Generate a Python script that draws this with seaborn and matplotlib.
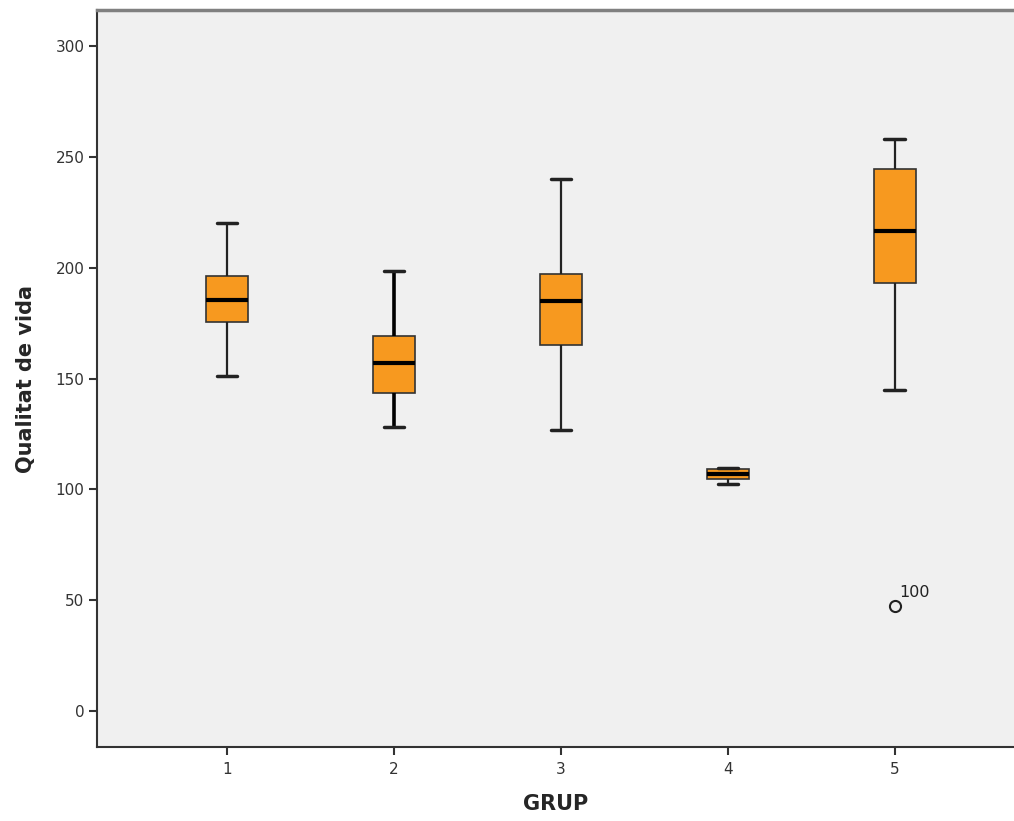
import numpy as np
import pandas as pd
import matplotlib
matplotlib.use("Agg")
import matplotlib.pyplot as plt
import seaborn as sns

# Five-number summaries (min whisker, Q1, median, Q3, max whisker)
grups = ["1", "2", "3", "4", "5"]
whisker_low = [151, 128, 127, 102.4, 145]
q1 = [175.5, 143.5, 165, 104.8, 193]
median = [185.3, 157.2, 184.8, 106.9, 216.5]
q3 = [196.3, 169.4, 197.1, 109.4, 244.3]
whisker_high = [220, 198.3, 240, 109.6, 258]

# Outlier in group 5 (case 100)
outlier_grup = "5"
outlier_value = 47.3
outlier_label = "100"

rows = []
for i, g in enumerate(grups):
    for v in [whisker_low[i], q1[i], median[i], q3[i], whisker_high[i]]:
        rows.append({"GRUP": g, "Qualitat de vida": v})
df = pd.DataFrame(rows)

sns.set_style("ticks")
plt.rcParams["font.family"] = ["DejaVu Sans"]

fig = plt.figure(figsize=(10.14, 8.21), dpi=100)
ax = fig.add_axes([0.0957, 0.0901, 0.9043, 0.8977])
ax.set_facecolor("#f0f0f0")

sns.boxplot(data=df, x="GRUP", y="Qualitat de vida", order=grups, ax=ax,
            whis=np.inf, width=0.25, color="#f7991f", saturation=1,
            linecolor="#222222", linewidth=1.2,
            medianprops={"color": "black", "linewidth": 3},
            whiskerprops={"color": "#222222", "linewidth": 1.6},
            capprops={"color": "#222222", "linewidth": 2.5},
            boxprops={"edgecolor": "#333333", "linewidth": 1.2})

# group 2 whiskers look heavier in the original
for line in ax.lines:
    xd = np.asarray(line.get_xdata(), dtype=float)
    if len(xd) == 2 and np.allclose(xd, 1) and line.get_linewidth() < 2:
        line.set_linewidth(2.6)
        line.set_color("black")

ox = grups.index(outlier_grup)
ax.plot([ox], [outlier_value], marker="o", markersize=8, markerfacecolor="none",
        markeredgecolor="#222222", markeredgewidth=1.5, linestyle="none")
ax.annotate(outlier_label, (ox, outlier_value), xytext=(3, 7),
            textcoords="offset points", fontsize=11.5, color="#222222")

ax.set_xlim(-0.778, 4.713)
ax.set_ylim(-16.2, 316.2)
ax.set_yticks([0, 50, 100, 150, 200, 250, 300])

ax.set_xlabel("GRUP", fontsize=15, fontweight="bold", labelpad=12)
ax.set_ylabel("Qualitat de vida", fontsize=15, fontweight="bold", labelpad=14)

ax.tick_params(axis="both", direction="out", length=6, width=1.5, color="#333333",
               labelsize=11, labelcolor="#333333")
ax.tick_params(axis="x", pad=5)
ax.tick_params(axis="y", pad=3)

ax.spines["right"].set_visible(False)
for s in ["left", "bottom"]:
    ax.spines[s].set_color("#333333")
    ax.spines[s].set_linewidth(1.5)
ax.spines["top"].set_visible(True)
ax.spines["top"].set_color("#808080")
ax.spines["top"].set_linewidth(2.5)

fig.savefig("out.png", dpi=100, facecolor="white")
